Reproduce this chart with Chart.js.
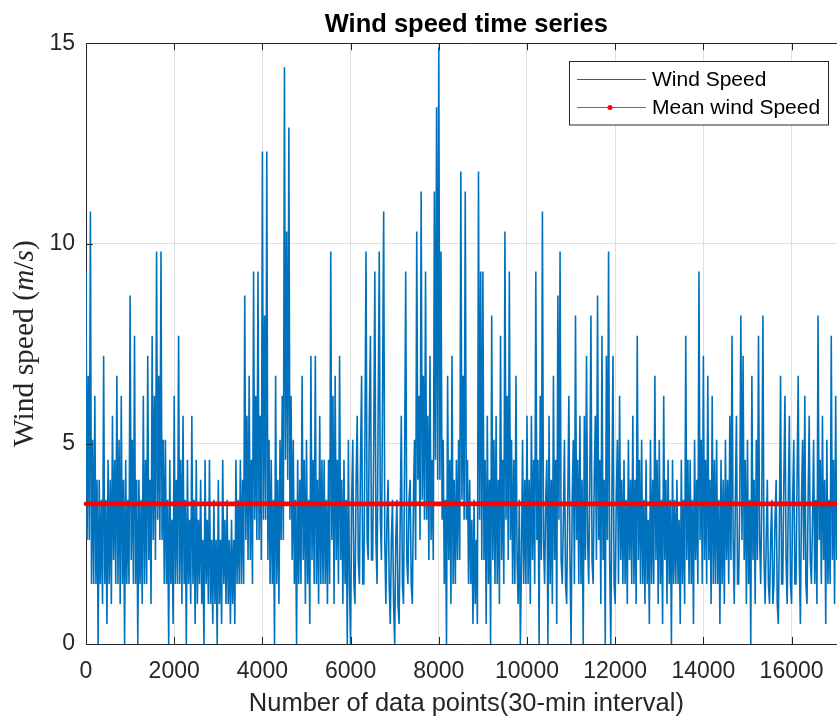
<!DOCTYPE html>
<html><head><meta charset="utf-8">
<script src="https://cdn.jsdelivr.net/npm/chart.js@4.4.1/dist/chart.umd.min.js"></script>
<style>
html,body{margin:0;padding:0;background:#fff;overflow:hidden;width:837px;height:717px}
#wrap{position:absolute;left:0;top:0;width:860px;height:717px}
</style>
</head><body><div id="wrap"><canvas id="c" width="860" height="717"></canvas></div>
<script>
// ---- data ----
const windStep = 25; // sample spacing (data points) between listed readings
const windSpeed = [
 9.3,2.6,6.7,2.6, 10.8,1.5,5.1,1.5, 6.2,1.5,4.1,0.0, 4.1,1.5,3.6,1.0, 7.2,1.5,3.6,0.5,
 4.6,1.5,4.1,1.0, 5.7,2.1,4.6,1.5, 6.7,1.5,5.1,1.0, 6.2,1.5,4.1,0.0, 4.6,1.5,3.6,1.5,
 8.7,2.1,5.1,1.5, 7.7,1.5,4.1,0.0, 4.1,1.5,3.6,1.0, 6.2,1.5,4.6,1.5, 7.2,2.1,4.1,1.0,
 7.7,2.6,6.2,2.1, 9.8,3.1,6.7,2.6, 9.8,2.6,5.1,1.5, 5.1,1.5,3.6,0.0, 4.6,1.5,3.1,0.5,
 6.2,1.5,4.1,1.5, 7.7,1.5,4.6,1.0, 5.7,1.5,3.6,0.0, 4.6,1.5,3.1,1.0, 5.7,1.5,3.6,0.5,
 4.6,1.0,3.1,1.5, 4.1,1.0,2.6,0.0, 4.6,1.5,3.1,1.0, 4.6,1.0,2.6,0.5, 3.6,1.0,2.6,0.0,
 4.1,1.0,2.6,0.5, 4.6,1.5,3.1,1.0, 3.6,1.0,2.6,0.5, 3.1,1.0,2.6,0.5, 4.6,1.5,3.6,1.5,
 4.6,1.5,4.1,1.5, 8.7,2.6,5.7,2.1, 6.7,2.1,4.6,1.5, 9.3,3.1,6.2,2.6, 9.3,2.6,5.7,2.1,
 12.3,3.1,8.2,3.1, 12.3,2.1,5.1,1.5, 4.6,1.5,3.6,0.0, 6.7,1.5,4.1,1.0, 5.1,2.6,6.2,2.6,
 14.4,4.6,10.3,4.1, 12.9,3.1,6.2,2.1, 5.1,1.5,3.6,0.0, 4.6,1.5,4.1,1.5, 6.7,2.1,4.6,1.0,
 5.1,1.5,3.6,0.5, 7.2,2.1,4.6,1.5, 7.2,1.5,4.1,1.0, 5.7,1.5,4.6,1.5, 4.6,1.5,3.6,1.0,
 4.6,1.5,9.8,2.6, 6.2,1.0,6.7,2.1, 4.6,1.5,7.2,2.1, 4.1,1.0,4.6,1.5, 3.6,0.0,5.1,1.5,
 0.0,3.6,5.1,1.5, 1.0,4.1,5.7,2.1, 1.5,4.6,6.7,1.5, 1.5,5.1,9.8,2.6, 2.1,5.7,7.7,2.1,
 2.1,5.1,9.3,2.6, 1.5,5.7,9.8,3.1, 2.1,6.2,10.8,2.6, 1.0,3.1,4.1,1.5, 0.5,2.6,3.6,1.0,
 0.0,2.6,3.6,1.0, 0.5,3.1,5.7,1.5, 1.0,4.6,9.3,2.1, 1.5,3.6,4.1,1.5, 1.0,3.6,5.1,2.1,
 10.3,4.1,6.2,2.6, 11.3,3.6,6.7,3.1, 9.3,3.1,5.7,2.1, 7.2,2.6,4.6,2.1, 11.3,4.6,13.4,4.1,
 14.9,4.1,9.8,3.1, 5.1,1.5,3.6,0.0, 6.7,2.1,4.6,1.0, 7.2,1.5,4.1,1.5, 4.6,2.1,5.1,2.1,
 11.8,3.6,6.7,3.1, 11.3,3.1,4.6,1.5, 4.1,1.5,3.1,0.5, 3.6,1.0,2.6,0.5, 11.8,3.1,9.3,2.1,
 9.3,2.1,4.6,0.5, 5.7,1.5,4.1,0.0, 8.2,2.1,5.1,1.5, 5.7,1.5,4.1,1.0, 7.7,2.1,4.6,1.5,
 10.3,3.1,6.2,2.1, 9.3,2.6,5.1,1.5, 4.6,1.5,6.7,2.1, 1.0,3.6,0.0,2.1, 5.1,1.5,4.1,1.5,
 5.7,1.5,4.1,1.0, 5.7,2.1,4.6,1.5, 9.3,2.6,4.6,0.0, 6.2,2.1,10.8,2.6, 1.5,3.6,4.6,0.0,
 5.7,1.5,4.1,1.0, 6.7,2.1,4.6,0.5, 8.7,3.1,9.8,2.1, 1.5,3.1,5.1,1.5, 1.0,3.6,6.2,2.1,
 0.0,3.6,5.1,1.5, 8.2,2.6,4.6,1.5, 5.7,1.5,4.1,0.0, 5.7,2.1,7.2,2.6, 1.5,4.1,8.2,2.1,
 1.5,4.1,5.7,2.1, 8.7,2.6,4.6,1.0, 7.7,2.1,4.1,0.0, 7.2,2.6,9.8,2.1, 0.0,3.6,7.2,1.5,
 1.0,3.6,5.1,1.5, 6.2,2.1,4.1,1.5, 4.6,1.5,3.6,1.0, 5.1,2.1,4.1,1.5, 5.7,1.5,4.1,1.0,
 7.7,2.1,4.6,1.5, 5.1,1.5,3.6,1.0, 4.6,1.5,3.1,0.5, 5.1,1.5,4.1,1.5, 6.7,2.1,4.6,1.0,
 5.1,1.5,3.6,0.5, 6.2,2.1,4.1,1.0, 4.6,1.5,3.6,0.0, 4.6,1.5,3.6,1.5, 4.1,1.5,3.1,0.5,
 4.6,1.5,3.6,1.0, 7.7,2.1,4.6,1.5, 4.6,1.5,3.6,0.5, 5.1,2.1,4.1,1.5, 9.3,2.6,5.1,1.5,
 7.2,2.1,4.6,1.5, 6.7,2.1,4.1,1.0, 6.2,1.5,4.6,1.5, 5.1,1.5,3.6,0.5, 4.6,1.5,4.1,1.0,
 5.1,2.1,4.1,1.5, 5.7,2.1,7.7,2.6, 1.0,3.6,5.7,1.5, 1.5,3.6,8.2,2.6, 7.2,2.1,4.6,1.0,
 5.1,1.5,3.6,0.0, 6.7,2.1,4.1,1.0, 5.1,2.1,7.7,2.6, 1.5,3.6,8.2,2.1, 1.0,2.6,4.1,1.5,
 1.0,2.6,3.6,1.0, 1.5,3.1,4.1,1.0, 0.5,3.1,6.7,1.5, 1.5,4.1,6.2,2.1, 1.0,3.6,5.7,1.5,
 1.0,3.6,5.1,1.5, 1.5,4.1,6.7,2.1, 0.5,3.6,5.1,2.1, 6.2,1.5,1.0,3.6, 5.7,2.1,1.5,3.1,
 5.1,1.5,3.6,1.0, 8.2,2.6,4.6,1.5, 5.7,2.1,4.1,0.5, 5.1,1.5,3.6,1.5, 7.7,2.1,4.6,1.0,
 6.2,2.1,4.1,1.5, 5.1,1.5,3.6,1.0, 4.6,2.1,3.6,2.1
];
const meanWindSpeed = [3.5];
const xTickValues = [0,2000,4000,6000,8000,10000,12000,14000,16000];
const yTickValues = [0,5,10,15];
const xRange = [0, 17250];
const yRange = [0, 15];
const titleText = 'Wind speed time series';
const xLabelText = 'Number of data points(30-min interval)';
const seriesNames = ['Wind Speed', 'Mean wind Speed'];

// ---- chart ----
const windPoints = windSpeed.map((v, i) => ({x: i * windStep, y: v}));
const meanPoints = [{x: xRange[0], y: meanWindSpeed[0]}, {x: xRange[1], y: meanWindSpeed[0]}];
const AX = '#262626';
const SANS = "'Liberation Sans', Arial, Helvetica, sans-serif";
const SERIF = "'Liberation Serif', 'Times New Roman', serif";

const deco = {
  id: 'deco',
  afterDraw(chart) {
    const {ctx, chartArea: a, scales: {x, y}} = chart;
    ctx.save();
    // top border
    ctx.strokeStyle = AX; ctx.lineWidth = 1;
    ctx.beginPath(); ctx.moveTo(a.left, Math.round(a.top) + 0.5); ctx.lineTo(a.right, Math.round(a.top) + 0.5); ctx.stroke();
    // inward ticks
    const tl = 7;
    xTickValues.forEach(v => {
      const px = Math.round(x.getPixelForValue(v)) + 0.5;
      ctx.beginPath();
      ctx.moveTo(px, a.bottom); ctx.lineTo(px, a.bottom - tl);
      ctx.moveTo(px, a.top); ctx.lineTo(px, a.top + tl);
      ctx.stroke();
    });
    yTickValues.forEach(v => {
      const py = Math.round(y.getPixelForValue(v)) + 0.5;
      ctx.beginPath(); ctx.moveTo(a.left, py); ctx.lineTo(a.left + tl, py); ctx.stroke();
    });
    // title
    ctx.fillStyle = '#000';
    ctx.font = "bold 25.5px " + SANS;
    ctx.textAlign = 'center'; ctx.textBaseline = 'alphabetic';
    ctx.fillText(titleText, (a.left + a.right) / 2, 32);
    // x label
    ctx.fillStyle = AX;
    ctx.font = "25.5px " + SANS;
    ctx.fillText(xLabelText, (a.left + a.right) / 2, 711);
    // y label (LaTeX-like, serif with italic units)
    const parts = [['Wind speed (', ''], ['m', 'italic '], ['/', ''], ['s', 'italic '], [')', '']];
    const fs = 29.5;
    let total = 0;
    parts.forEach(p => { ctx.font = p[1] + fs + 'px ' + SERIF; p.push(ctx.measureText(p[0]).width); total += p[2]; });
    ctx.translate(33, (a.top + a.bottom) / 2);
    ctx.rotate(-Math.PI / 2);
    ctx.fillStyle = AX;
    ctx.textAlign = 'left'; ctx.textBaseline = 'alphabetic';
    let cx = -total / 2;
    parts.forEach(p => { ctx.font = p[1] + fs + 'px ' + SERIF; ctx.fillText(p[0], cx, 0); cx += p[2]; });
    ctx.setTransform(1, 0, 0, 1, 0, 0);
    // legend box
    const bx = 569.5, by = 61.5, bw = 259, bh = 63.5;
    ctx.fillStyle = '#fff'; ctx.fillRect(bx, by, bw, bh);
    ctx.strokeStyle = AX; ctx.lineWidth = 1; ctx.strokeRect(bx, by, bw, bh);
    ctx.font = "21px " + SANS; ctx.textAlign = 'left'; ctx.textBaseline = 'middle'; ctx.fillStyle = '#000';
    // row 1
    ctx.strokeStyle = '#0072BD'; ctx.lineWidth = 1.2;
    ctx.beginPath(); ctx.moveTo(577, 79.5); ctx.lineTo(646, 79.5); ctx.stroke();
    ctx.fillText(seriesNames[0], 652, 80);
    // row 2
    ctx.strokeStyle = '#ff3030'; ctx.lineWidth = 1.2;
    ctx.beginPath(); ctx.moveTo(577, 107.5); ctx.lineTo(646, 107.5); ctx.stroke();
    ctx.fillStyle = '#ff0000'; ctx.beginPath(); ctx.arc(610, 107.5, 2.5, 0, Math.PI * 2); ctx.fill();
    ctx.fillStyle = '#000';
    ctx.fillText(seriesNames[1], 652, 108);
    ctx.restore();
  }
};

new Chart(document.getElementById('c'), {
  type: 'line',
  data: {
    datasets: [
      {label: seriesNames[1], data: meanPoints, borderColor: '#ff0000', borderWidth: 4.6, pointRadius: 0,
       borderCapStyle: 'round', order: 0, clip: {left: 4, right: 0, top: 0, bottom: 0}},
      {label: seriesNames[0], data: windPoints, borderColor: '#0072BD', borderWidth: 1.6, pointRadius: 0,
       tension: 0, order: 1}
    ]
  },
  options: {
    responsive: false, animation: false, events: [],
    layout: {padding: {left: 0, right: 13.3, top: 43.3, bottom: 0}},
    plugins: {legend: {display: false}, title: {display: false}, tooltip: {enabled: false}},
    scales: {
      x: {
        type: 'linear', min: xRange[0], max: xRange[1],
        afterFit: s => { s.height = 73; },
        afterBuildTicks: s => { s.ticks = xTickValues.map(v => ({value: v})); },
        grid: {color: '#dfdfdf', lineWidth: 1, drawTicks: false},
        border: {display: true, color: AX, width: 1},
        ticks: {color: AX, font: {family: SANS, size: 23}, padding: 14, maxRotation: 0, autoSkip: false,
                callback: v => String(v)}
      },
      y: {
        min: yRange[0], max: yRange[1],
        afterFit: s => { s.width = 86; },
        afterBuildTicks: s => { s.ticks = yTickValues.map(v => ({value: v})); },
        grid: {color: '#dfdfdf', lineWidth: 1, drawTicks: false},
        border: {display: true, color: AX, width: 1},
        ticks: {color: AX, font: {family: SANS, size: 23}, padding: 11, callback: v => String(v)}
      }
    }
  },
  plugins: [deco]
});
</script></body></html>
